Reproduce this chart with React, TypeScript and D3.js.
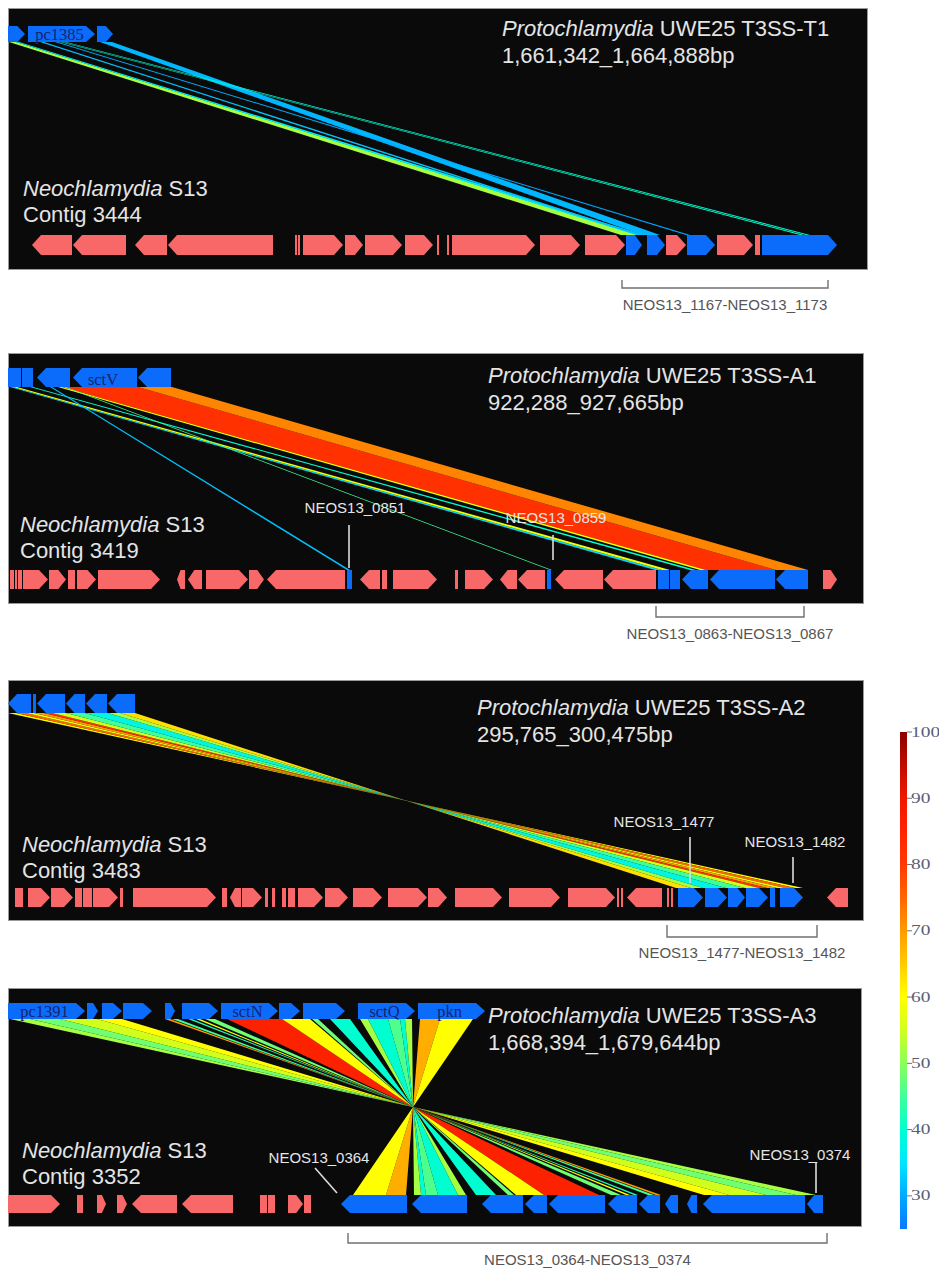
import React from "react";
import * as d3 from "d3";

// gene: [start bp, end bp, strand, kind ("t" = T3SS homolog, "o" = other), name]
type Gene = [number, number, number, string, string?];
// link: [top start, top end, bottom start, bottom end, % identity]
type Link = [number, number, number, number, number];

// ---- T3SS-T1 vs contig 3444 ----
const t1Top: Gene[] = [
  [0, 510, 1, "t"],
  [600, 2610, 1, "t", "pc1385"],
  [2670, 3150, 1, "t"],
];
const t1Bottom: Gene[] = [
  [720, 1920, -1, "o"], [1950, 3540, -1, "o"], [3810, 4770, -1, "o"], [4800, 7950, -1, "o"],
  [8610, 8670, 0, "o"], [8700, 8760, 0, "o"], [8850, 10050, 1, "o"], [10110, 10650, 1, "o"],
  [10710, 11820, 1, "o"], [11910, 12750, 1, "o"], [12870, 12930, 0, "o"], [13170, 13230, 0, "o"],
  [13320, 15810, 1, "o"], [15960, 17160, 1, "o"], [17310, 18510, 1, "o"], [18540, 19020, 1, "t"],
  [19170, 19710, 1, "t"], [19740, 20340, 1, "o"], [20370, 21210, 1, "t"], [21270, 22350, 1, "o"],
  [22410, 22560, 0, "o"], [22620, 24870, 1, "t"],
];
const t1Links: Link[] = [
  [30, 240, 18390, 18900, 52],
  [240, 330, 18840, 19080, 36],
  [960, 1080, 18870, 19020, 32],
  [2760, 3120, 19020, 19560, 31],
  [1410, 1500, 20340, 20460, 30],
  [1560, 1620, 23760, 23880, 40],
  [1680, 1740, 23940, 24060, 40],
];

// ---- T3SS-A1 vs contig 3419 ----
const a1Top: Gene[] = [
  [0, 390, 0, "t"], [420, 750, 0, "t"], [870, 1860, -1, "t"],
  [1950, 3870, -1, "t", "sctV"], [3900, 4890, -1, "t"],
];
const a1Bottom: Gene[] = [
  [60, 180, 0, "o"], [210, 270, 0, "o"], [300, 420, 0, "o"], [450, 1200, 1, "o"],
  [1230, 1740, 1, "o"], [1800, 2010, 0, "o"], [2070, 2640, 1, "o"], [2700, 4560, 1, "o"],
  [5070, 5310, -1, "o"], [5400, 5820, -1, "o"], [5940, 7200, 1, "o"], [7230, 7680, 1, "o"],
  [7770, 10110, -1, "o"], [10170, 10320, 0, "t"], [10560, 11160, -1, "o"], [11220, 11370, 0, "o"],
  [11550, 12870, 1, "o"], [13410, 13500, 0, "o"], [13710, 14550, 1, "o"], [14760, 15270, -1, "o"],
  [15300, 16110, -1, "o"], [16170, 16290, 0, "t"], [16410, 17850, -1, "o"], [17880, 19350, -1, "o"],
  [19350, 19440, 0, "o"], [19500, 19830, 0, "t"], [19860, 20160, 0, "t"], [20220, 21000, -1, "t"],
  [21060, 23010, -1, "t"], [23040, 24000, -1, "t"], [24450, 24870, 1, "o"],
];
const a1Links: Link[] = [
  [1620, 3900, 20940, 23040, 82],
  [3900, 4920, 23040, 24000, 72],
  [1500, 1620, 20760, 20940, 60],
  [660, 750, 20460, 20640, 40],
  [60, 150, 19410, 19620, 34],
  [150, 270, 19620, 19860, 58],
  [1260, 1320, 10170, 10260, 32],
  [1680, 1740, 16260, 16320, 45],
];

// ---- T3SS-A2 vs contig 3483 ----
const a2Top: Gene[] = [
  [0, 690, -1, "t"], [750, 840, 0, "t"], [870, 1710, -1, "t"],
  [1740, 2310, -1, "t"], [2340, 2970, -1, "t"], [3000, 3810, -1, "t"],
];
const a2Bottom: Gene[] = [
  [210, 450, 0, "o"], [600, 1260, 1, "o"], [1290, 1950, 1, "o"], [2010, 2220, 0, "o"],
  [2250, 2520, 0, "o"], [2550, 3300, 1, "o"], [3360, 3450, 0, "o"], [3750, 6240, 1, "o"],
  [6420, 6570, 0, "o"], [6660, 6990, -1, "o"], [7020, 7620, 1, "o"], [7710, 7800, 0, "o"],
  [7920, 8010, 0, "o"], [8220, 8340, 0, "o"], [8400, 8610, 0, "o"], [8700, 9450, 1, "o"],
  [9510, 10200, 1, "o"], [10350, 11220, 1, "o"], [11400, 12570, 1, "o"], [12600, 13170, 1, "o"],
  [13410, 14820, 1, "o"], [15030, 16560, 1, "o"], [16800, 18210, 1, "o"], [18270, 18330, 0, "o"],
  [18390, 18450, 0, "o"], [18570, 19620, -1, "o"], [19770, 19830, 0, "o"], [19890, 19950, 0, "o"],
  [20100, 20850, 1, "t"], [20910, 21570, 1, "t"], [21600, 22110, 1, "t"], [22140, 22800, 1, "t"],
  [22860, 23010, 0, "t"], [23160, 23850, 1, "t"], [24570, 25200, -1, "o"],
];
const a2Links: Link[] = [
  [0, 240, 23850, 23610, 60],
  [240, 540, 23610, 23310, 75],
  [540, 780, 23310, 23070, 58],
  [780, 1080, 23070, 22770, 70],
  [1080, 1320, 22770, 22530, 82],
  [1320, 1740, 22530, 22110, 55],
  [1740, 2310, 22110, 21540, 45],
  [2310, 3000, 21540, 20850, 38],
  [3000, 3360, 20850, 20490, 52],
  [3360, 3810, 20490, 20040, 63],
];

// ---- T3SS-A3 vs contig 3352 ----
const a3Top: Gene[] = [
  [0, 2310, 1, "t", "pc1391"], [2370, 2700, 1, "t"], [2820, 3420, 1, "t"], [3450, 4320, 1, "t"],
  [4710, 5010, 1, "t"], [5220, 6300, 1, "t"], [6390, 8100, 1, "t", "sctN"], [8130, 8760, 1, "t"],
  [8850, 10110, 1, "t"], [10500, 12210, 1, "t", "sctQ"], [12300, 14310, 1, "t", "pkn"],
];
const a3Bottom: Gene[] = [
  [0, 1560, 1, "o"], [2070, 2250, 0, "o"], [2670, 2940, 1, "o"], [3270, 3570, 1, "o"],
  [3720, 5070, -1, "o"], [5220, 6750, -1, "o"], [7560, 7770, 0, "o"], [7800, 8010, 0, "o"],
  [8400, 8850, 1, "o"], [8880, 9090, 0, "o"],
  [9990, 11970, -1, "t"], [12120, 13770, -1, "t"], [14220, 15450, -1, "t"], [15510, 16170, -1, "t"],
  [16230, 17910, -1, "t"], [18000, 18870, -1, "t"], [18930, 19560, -1, "t"], [19710, 20100, -1, "t"],
  [20370, 20670, -1, "t"], [20850, 23910, -1, "t"], [23970, 24450, -1, "t"],
];
const a3Links: Link[] = [
  [60, 660, 24240, 23640, 52],
  [660, 1560, 23640, 22740, 48],
  [1560, 2670, 22740, 21630, 55],
  [2670, 3420, 21630, 20880, 60],
  [4710, 4860, 19590, 19440, 70],
  [4920, 5100, 19380, 19200, 45],
  [5400, 5520, 18900, 18780, 42],
  [5640, 5760, 18660, 18540, 60],
  [5910, 6210, 18390, 18090, 48],
  [6570, 8220, 17730, 16080, 86],
  [8220, 9060, 16080, 15240, 60],
  [9120, 9300, 15180, 15000, 48],
  [9660, 10260, 14640, 14040, 40],
  [10560, 10800, 13740, 13500, 52],
  [10800, 11400, 13500, 12900, 40],
  [11400, 11760, 12900, 12540, 46],
  [11760, 11910, 12540, 12390, 40],
  [11910, 12120, 12390, 12180, 52],
  [12360, 12960, 11940, 11340, 68],
  [12960, 13950, 11340, 10350, 60],
];

// titles
const topNames = ["T3SS-T1", "T3SS-A1", "T3SS-A2", "T3SS-A3"];
const topRanges = ["1,661,342_1,664,888bp", "922,288_927,665bp", "295,765_300,475bp", "1,668,394_1,679,644bp"];
const contigs = ["Contig 3444", "Contig 3419", "Contig 3483", "Contig 3352"];
const clusterLabels = ["NEOS13_1167-NEOS13_1173", "NEOS13_0863-NEOS13_0867", "NEOS13_1477-NEOS13_1482", "NEOS13_0364-NEOS13_0374"];
const clusterSpans = [[18420, 24600], [19440, 23880], [19770, 24270], [10200, 24570]];

// callouts: panel, text, text centre bp, leader from [bp, dy], leader to [bp, dy], baseline dy (from bottom track)
const callouts: [number, string, number, [number, number], [number, number], number][] = [
  [1, "NEOS13_0851", 10410, [10230, -45], [10230, -2], -57],
  [1, "NEOS13_0859", 16440, [16350, -35], [16350, -10], -47],
  [2, "NEOS13_1477", 19680, [20460, -51], [20460, -5], -61],
  [2, "NEOS13_1482", 23610, [23550, -31], [23550, -5], -41],
  [3, "NEOS13_0364", 9330, [9210, -27], [9870, -2], -32],
  [3, "NEOS13_0374", 23760, [24240, -32], [24240, -2], -35],
];

// identity colour ramp
const identityStops = [25, 30, 35, 40, 45, 50, 55, 60, 65, 70, 75, 80, 85, 90, 95, 100];
const identityColors = ["#0a78ff", "#00aaff", "#00e6ff", "#00ffd0", "#40ff9a", "#8cff5a", "#d0ff1e", "#ffff00", "#ffcc00", "#ff9a00", "#ff6600", "#ff3a00", "#ff2400", "#f01800", "#c00c00", "#8b0000"];
const legendTicks = [30, 40, 50, 60, 70, 80, 90, 100];

const panels = [
  { top: t1Top, bottom: t1Bottom, links: t1Links, frame: [8, 8, 867, 269], tt: [26, 42], bt: [235, 255], title: [502, 36], neo: [23, 196], br: [280, 288, 310] },
  { top: a1Top, bottom: a1Bottom, links: a1Links, frame: [8, 353, 863, 603], tt: [368, 387], bt: [570, 589], title: [488, 383], neo: [20, 532], br: [606, 617, 639] },
  { top: a2Top, bottom: a2Bottom, links: a2Links, frame: [8, 680, 863, 920], tt: [694, 713], bt: [888, 907], title: [477, 715], neo: [22, 852], br: [925, 937, 958] },
  { top: a3Top, bottom: a3Bottom, links: a3Links, frame: [8, 988, 861, 1226], tt: [1003, 1019], bt: [1195, 1213], title: [488, 1023], neo: [22, 1158], br: [1233, 1243, 1265] },
];

const x = d3.scaleLinear().domain([0, 25800]).range([8, 868]);
const color = d3.scaleLinear<string>().domain(identityStops).range(identityColors).interpolate(d3.interpolateRgb);
const legendY = d3.scaleLinear().domain([25, 100]).range([1229, 732]);
const geneFill: Record<string, string> = { t: "#0b6cfb", o: "#f86868" };

const SANS = "Liberation Sans, Arial, Helvetica, sans-serif";
const SERIF = "Liberation Serif, Times New Roman, serif";

function genePath(g: Gene, y0: number, y1: number) {
  const x0 = x(g[0]);
  const x1 = x(g[1]);
  const head = Math.min(9, (x1 - x0) * 0.45);
  const ym = (y0 + y1) / 2;
  if (g[2] > 0) return `M${x0},${y0}L${x1 - head},${y0}L${x1},${ym}L${x1 - head},${y1}L${x0},${y1}Z`;
  if (g[2] < 0) return `M${x1},${y0}L${x0 + head},${y0}L${x0},${ym}L${x0 + head},${y1}L${x1},${y1}Z`;
  return `M${x0},${y0}L${x1},${y0}L${x1},${y1}L${x0},${y1}Z`;
}

function linkPath(l: Link, yt: number, yb: number) {
  return `M${x(l[0])},${yt}L${x(l[1])},${yt}L${x(l[3])},${yb}L${x(l[2])},${yb}Z`;
}

export default function App() {
  return (
    <svg width={939} height={1270} style={{ position: "absolute", left: 0, top: 0, background: "#fff" }}>
      <defs>
        <linearGradient id="idramp" x1="0" y1="1" x2="0" y2="0">
          {identityStops.map((v, i) => (
            <stop key={v} offset={(v - 25) / 75} stopColor={identityColors[i]} />
          ))}
        </linearGradient>
      </defs>
      {panels.map((p, pi) => {
        const [fx0, fy0, fx1, fy1] = p.frame;
        const [s0, s1] = clusterSpans[pi];
        return (
          <g key={pi}>
            <rect x={fx0 + 0.5} y={fy0 + 0.5} width={fx1 - fx0} height={fy1 - fy0} fill="#0a0a0a" stroke="#9a9a9a" strokeWidth={1} />
            {p.links.map((l, i) => (
              <path key={"l" + i} d={linkPath(l, p.tt[1], p.bt[0])} fill={color(l[4])} />
            ))}
            {p.top.map((g, i) => (
              <path key={"t" + i} d={genePath(g, p.tt[0], p.tt[1])} fill={geneFill[g[3]]} />
            ))}
            {p.bottom.map((g, i) => (
              <path key={"b" + i} d={genePath(g, p.bt[0], p.bt[1])} fill={geneFill[g[3]]} />
            ))}
            {p.top.filter((g) => g[4]).map((g, i) => (
              <text key={"n" + i} x={(x(g[0]) + x(g[1])) / 2 - 2} y={p.tt[1] - 2.5} textAnchor="middle"
                fontFamily={SERIF} fontSize={16.5} fill="#16236e">{g[4]}</text>
            ))}
            <text x={p.title[0]} y={p.title[1]} fontFamily={SANS} fontSize={22} fill="#e4e4e4">
              <tspan fontStyle="italic">Protochlamydia</tspan> UWE25 {topNames[pi]}
            </text>
            <text x={p.title[0]} y={p.title[1] + 27} fontFamily={SANS} fontSize={22} fill="#e4e4e4">{topRanges[pi]}</text>
            <text x={p.neo[0]} y={p.neo[1]} fontFamily={SANS} fontSize={22} fill="#e4e4e4">
              <tspan fontStyle="italic">Neochlamydia</tspan> S13
            </text>
            <text x={p.neo[0]} y={p.neo[1] + 26} fontFamily={SANS} fontSize={22} fill="#e4e4e4">{contigs[pi]}</text>
            <path d={`M${x(s0)},${p.br[0]}V${p.br[1]}H${x(s1)}V${p.br[0]}`} fill="none" stroke="#707070" strokeWidth={1.4} />
            <text x={(x(s0) + x(s1)) / 2} y={p.br[2]} textAnchor="middle" fontFamily={SANS} fontSize={15} fill="#555">
              {clusterLabels[pi]}
            </text>
            {callouts.filter((c) => c[0] === pi).map((c, i) => (
              <g key={"c" + i}>
                <line x1={x(c[3][0])} y1={p.bt[0] + c[3][1]} x2={x(c[4][0])} y2={p.bt[0] + c[4][1]} stroke="#dcdcdc" strokeWidth={1.6} />
                <text x={x(c[2])} y={p.bt[0] + c[5]} textAnchor="middle" fontFamily={SANS} fontSize={15} fill="#e6e6e6">{c[1]}</text>
              </g>
            ))}
          </g>
        );
      })}
      <g>
        <rect x={900} y={legendY(100)} width={7} height={legendY(25) - legendY(100)} fill="url(#idramp)" />
        {legendTicks.map((t) => (
          <g key={t}>
            <line x1={907} x2={912} y1={legendY(t)} y2={legendY(t)} stroke="#6a6f80" strokeWidth={1} />
            <text x={911} y={legendY(t) + 4.5} fontFamily={SERIF} fontSize={14} fill="#5a5f78"
              textLength={String(t).length * 9.7} lengthAdjust="spacingAndGlyphs">{t}</text>
          </g>
        ))}
      </g>
    </svg>
  );
}
